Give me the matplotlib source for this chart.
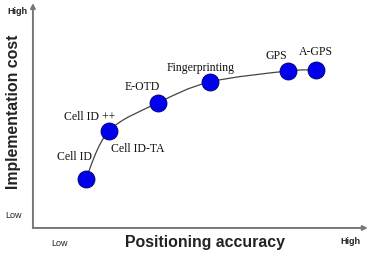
import matplotlib.pyplot as plt
from matplotlib.path import Path
from matplotlib.patches import PathPatch

# positioning methods: accuracy vs implementation cost (0..10 scale)
methods = ['Cell ID', 'Cell ID ++', 'E-OTD', 'Fingerprinting', 'GPS', 'A-GPS']
accuracy = [1.58, 2.27, 3.73, 5.28, 7.61, 8.45]
cost = [2.18, 4.31, 5.56, 6.49, 6.98, 7.02]

fig = plt.figure(figsize=(3.7, 2.57), dpi=100)
ax = fig.add_axes([0.089, 0.113, 0.905, 0.875])
ax.set_xlim(0, 10)
ax.set_ylim(0, 10)
ax.axis('off')

# axes with arrows
ax.annotate('', xy=(1.0, 0), xytext=(0, 0), xycoords='axes fraction',
            arrowprops=dict(arrowstyle='-|>', color='#777777', lw=1.4,
                            mutation_scale=7, shrinkA=0, shrinkB=0))
ax.annotate('', xy=(0, 1.0), xytext=(0, 0), xycoords='axes fraction',
            arrowprops=dict(arrowstyle='-|>', color='#777777', lw=1.4,
                            mutation_scale=7, shrinkA=0, shrinkB=0))

# smooth curve through the points (Catmull-Rom as bezier segments)
pts = list(zip(accuracy, cost))
verts = [pts[0]]
codes = [Path.MOVETO]
for i in range(len(pts) - 1):
    p0 = pts[max(i - 1, 0)]
    p1 = pts[i]
    p2 = pts[i + 1]
    p3 = pts[min(i + 2, len(pts) - 1)]
    c1 = (p1[0] + (p2[0] - p0[0]) / 6, p1[1] + (p2[1] - p0[1]) / 6)
    c2 = (p2[0] - (p3[0] - p1[0]) / 6, p2[1] - (p3[1] - p1[1]) / 6)
    verts += [c1, c2, p2]
    codes += [Path.CURVE4] * 3
ax.add_patch(PathPatch(Path(verts, codes), fill=False, edgecolor='#444444',
                       lw=0.9, zorder=1))

ax.scatter(accuracy, cost, s=150, color='#0000ee', edgecolor='#000066',
           linewidth=0.6, zorder=2)

serif = dict(family='Liberation Serif', fontsize=8.5, color='#111111')
ax.text(1.25, 3.15, 'Cell ID', ha='center', va='center', **serif)
ax.text(1.70, 4.93, 'Cell ID ++', ha='center', va='center', **serif)
ax.text(3.13, 3.51, 'Cell ID-TA', ha='center', va='center', **serif)
ax.text(3.28, 6.27, 'E-OTD', ha='center', va='center', **serif)
ax.text(5.0, 7.11, 'Fingerprinting', ha='center', va='center', **serif)
ax.text(7.28, 7.64, 'GPS', ha='center', va='center', **serif)
ax.text(8.45, 7.82, 'A-GPS', ha='center', va='center', **serif)

sans = dict(family='Liberation Sans', color='#222222')
fig.text(205 / 370, 1 - 243 / 257, 'Positioning accuracy', ha='center',
         va='center', fontsize=11.4, fontweight='bold', **sans)
fig.text(14 / 370, 1 - 112 / 257, 'Implementation cost', ha='center',
         va='center', rotation=90, fontsize=11.4, fontweight='bold', **sans)
fig.text(17 / 370, 1 - 11 / 257, 'High', ha='center', va='center',
         fontsize=6.5, fontweight='bold', **sans)
fig.text(14 / 370, 1 - 215 / 257, 'Low', ha='center', va='center',
         fontsize=6.5, **sans)
fig.text(60 / 370, 1 - 243 / 257, 'Low', ha='center', va='center',
         fontsize=6.5, **sans)
fig.text(350 / 370, 1 - 241 / 257, 'High', ha='center', va='center',
         fontsize=6.5, fontweight='bold', **sans)

fig.savefig('out.png', dpi=100)
